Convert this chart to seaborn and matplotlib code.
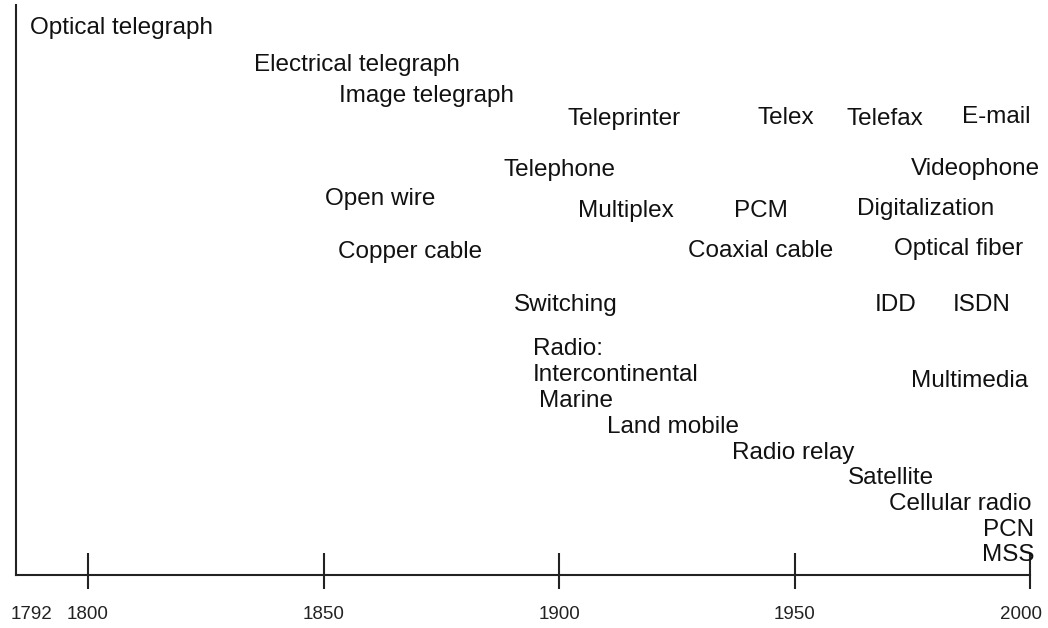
import matplotlib
matplotlib.use("Agg")
import matplotlib.pyplot as plt
import matplotlib.transforms as mtransforms
import seaborn as sns

# timeline entries: label, year where the text starts, height above the axis
labels = ["Optical telegraph", "Electrical telegraph", "Image telegraph",
          "Teleprinter", "Telex", "Telefax", "E-mail",
          "Telephone", "Videophone",
          "Open wire", "Multiplex", "PCM", "Digitalization",
          "Copper cable", "Coaxial cable", "Optical fiber",
          "Switching", "IDD", "ISDN",
          "Radio:", "Intercontinental", "Marine", "Multimedia",
          "Land mobile", "Radio relay", "Satellite", "Cellular radio",
          "PCN", "MSS"]
years = [1787.7, 1835.3, 1853.2,
         1901.9, 1942.1, 1961.1, 1985.5,
         1888.3, 1974.7,
         1850.4, 1904.0, 1937.2, 1963.2,
         1853.0, 1927.4, 1971.1,
         1890.4, 1967.0, 1983.6,
         1894.5, 1894.5, 1895.7, 1974.7,
         1910.2, 1936.8, 1961.3, 1970.0,
         1990.0, 1989.8]
heights = [547, 510, 479,
           456, 457, 456, 458,
           405, 406,
           376, 364, 364, 366,
           323, 324, 326,
           270, 270, 270,
           226, 200, 174, 194,
           148, 122, 97, 71,
           45, 20]

tick_years = [1788, 1800, 1850, 1900, 1950, 2000]
tick_labels = ["1792", "1800", "1850", "1900", "1950", "2000"]

sns.set_theme(style="white")
plt.rcParams["font.family"] = ["Liberation Sans", "DejaVu Sans"]

fig = plt.figure(figsize=(10.48, 6.28), dpi=100)
ax = fig.add_axes([16 / 1048, 53 / 628, 1014 / 1048, 570 / 628])

for lab, yr, h in zip(labels, years, heights):
    ax.text(yr, h, lab, ha="left", va="center", fontsize=17.5, color="#111111")

ax.set_xlim(1784.7, 2000)
ax.set_ylim(0, 570)
ax.set_yticks([])

sns.despine(ax=ax)
for side in ["left", "bottom"]:
    ax.spines[side].set_linewidth(1.5)
    ax.spines[side].set_color("#222222")

ax.set_xticks(tick_years)
ax.set_xticklabels(tick_labels, fontsize=13.5, color="#222222")
ax.xaxis.remove_overlapping_locs = False
ax.set_xticks(tick_years, minor=True)
ax.tick_params(axis="x", which="major", direction="out", length=10, width=1.5,
               color="#222222", pad=12, bottom=True)
ax.tick_params(axis="x", which="minor", direction="in", length=16, width=1.5,
               color="#222222", bottom=True)
# the origin label has no tick mark
ax.xaxis.get_major_ticks()[0].tick1line.set_visible(False)
ax.xaxis.get_minor_ticks()[0].tick1line.set_visible(False)

# last label sits a little left of its tick, so it stays inside the picture
last = ax.get_xticklabels()[-1]
last.set_transform(last.get_transform()
                   + mtransforms.ScaledTranslation(-0.09, 0, fig.dpi_scale_trans))

fig.savefig("out.png", dpi=100, facecolor="white")
